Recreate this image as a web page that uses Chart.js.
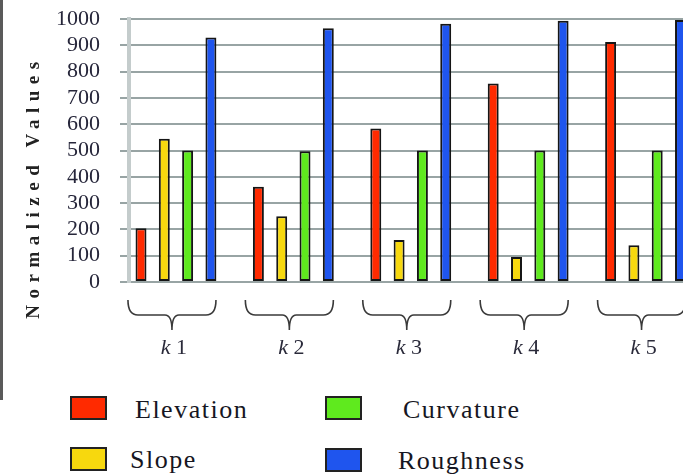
<!DOCTYPE html>
<html>
<head>
<meta charset="utf-8">
<script src="https://cdn.jsdelivr.net/npm/chart.js@4.4.1/dist/chart.umd.min.js"></script>
<style>
  html, body { margin: 0; padding: 0; background: #fff; }
  body { width: 683px; height: 475px; overflow: hidden; position: relative;
         font-family: "Liberation Serif", "Times New Roman", serif; }
  #wrap { position: absolute; left: 0; top: 0; width: 716px; height: 380px; }
  #edge { position: absolute; left: 0; top: 0; width: 3px; height: 400px; background: #5a5a5a; }
  .box { position: absolute; width: 33px; height: 20px; border: 2px solid #222; }
  .lbl { position: absolute; font-size: 26px; line-height: 26px; letter-spacing: 1.5px; color: #161622; white-space: nowrap; }
</style>
</head>
<body>
<div id="edge"></div>
<div id="wrap"><canvas id="chart" width="716" height="380"></canvas></div>
<div id="legend"></div>
<script>
// datos
const categories = ['k 1', 'k 2', 'k 3', 'k 4', 'k 5'];
const seriesNames = ['Elevation', 'Slope', 'Curvature', 'Roughness'];
const elevation = [204, 362, 584, 755, 913];
const slope = [545, 250, 160, 95, 140];
const curvature = [500, 497, 500, 500, 500];
const roughness = [930, 965, 982, 993, 996];
const colors = ['#ff2a00', '#f7d80e', '#5fea1e', '#1f55ee'];

const serif = '"Liberation Serif", "Times New Roman", serif';
const allSeries = [elevation, slope, curvature, roughness];

// llaves debajo de cada grupo + etiquetas k y titulo del eje y
const bracesPlugin = {
    id: 'braces',
    afterDraw(chart) {
        const { ctx, chartArea, scales: { x } } = chart;
        ctx.save();
        ctx.strokeStyle = '#3a3a3a';
        ctx.lineWidth = 1.6;
        const top = chartArea.bottom + 18, mid = top + 15, tip = top + 30;
        categories.forEach((c, i) => {
            const xc = x.getPixelForValue(i + 1) - 4;
            const x0 = xc - 44, x1 = xc + 44;
            ctx.beginPath();
            ctx.moveTo(x0, top);
            ctx.quadraticCurveTo(x0, mid, x0 + 10, mid);
            ctx.lineTo(xc - 7, mid);
            ctx.quadraticCurveTo(xc, mid, xc, tip);
            ctx.quadraticCurveTo(xc, mid, xc + 7, mid);
            ctx.lineTo(x1 - 10, mid);
            ctx.quadraticCurveTo(x1, mid, x1, top);
            ctx.stroke();

            const parts = c.split(' ');
            ctx.fillStyle = '#2a2a3a';
            ctx.textBaseline = 'middle';
            ctx.textAlign = 'left';
            ctx.font = 'italic 22px ' + serif;
            const wk = ctx.measureText(parts[0]).width;
            ctx.font = '22px ' + serif;
            const wn = ctx.measureText(' ' + parts[1]).width;
            const lx = xc + 2 - (wk + wn) / 2;
            ctx.font = 'italic 22px ' + serif;
            ctx.fillText(parts[0], lx, chartArea.bottom + 66);
            ctx.font = '22px ' + serif;
            ctx.fillText(' ' + parts[1], lx + wk, chartArea.bottom + 66);
        });

        ctx.translate(34, 190);
        ctx.rotate(-Math.PI / 2);
        ctx.font = 'bold 19px ' + serif;
        ctx.letterSpacing = '6.5px';
        ctx.textAlign = 'center';
        ctx.textBaseline = 'middle';
        ctx.fillStyle = '#222';
        ctx.fillText('Normalized Values', 3, 0);
        ctx.restore();
    }
};

const ctx = document.getElementById('chart').getContext('2d');
new Chart(ctx, {
    type: 'bar',
    data: {
        datasets: seriesNames.map((name, s) => ({
            label: name,
            data: allSeries[s].map((v, i) => ({ x: i + 1, y: v })),
            backgroundColor: colors[s],
            borderColor: '#151515',
            borderWidth: 2,
            borderSkipped: false,
            categoryPercentage: 0.794,
            barPercentage: 0.47
        }))
    },
    options: {
        responsive: false,
        animation: false,
        layout: { padding: { top: 19, left: 0, right: 0, bottom: 0 } },
        plugins: { legend: { display: false }, tooltip: { enabled: false } },
        scales: {
            x: {
                type: 'linear',
                min: 0.6,
                max: 5.6,
                offset: false,
                grid: { display: false, offset: false },
                border: { display: false },
                ticks: { display: false },
                afterBuildTicks: s => { s.ticks = categories.map((c, i) => ({ value: i + 1 })); },
                afterFit: s => { s.height = 98; s.paddingLeft = 0; s.paddingRight = 0; }
            },
            y: {
                min: 0,
                max: 1000,
                ticks: {
                    stepSize: 100,
                    autoSkip: false,
                    padding: 20,
                    color: '#26263a',
                    font: { family: serif, size: 22, lineHeight: 1 },
                    callback: v => String(v)
                },
                grid: { color: '#98a4a4', lineWidth: 2, tickLength: 9 },
                border: { color: '#c4cccc', width: 4 },
                afterFit: s => { s.width = 129; s.paddingTop = 0; s.paddingBottom = 0; }
            }
        }
    },
    plugins: [bracesPlugin]
});

// leyenda en dos columnas
const legendPos = [
    { bx: 70, by: 396, tx: 135, ty: 397 },
    { bx: 70, by: 447, tx: 130, ty: 447 },
    { bx: 325, by: 396, tx: 403, ty: 397 },
    { bx: 325, by: 448, tx: 398, ty: 448 }
];
const legend = document.getElementById('legend');
seriesNames.forEach((name, s) => {
    const p = legendPos[s];
    const box = document.createElement('div');
    box.className = 'box';
    box.style.left = p.bx + 'px';
    box.style.top = p.by + 'px';
    box.style.background = colors[s];
    legend.appendChild(box);
    const lbl = document.createElement('div');
    lbl.className = 'lbl';
    lbl.style.left = p.tx + 'px';
    lbl.style.top = p.ty + 'px';
    lbl.textContent = name;
    legend.appendChild(lbl);
});
</script>
</body>
</html>
